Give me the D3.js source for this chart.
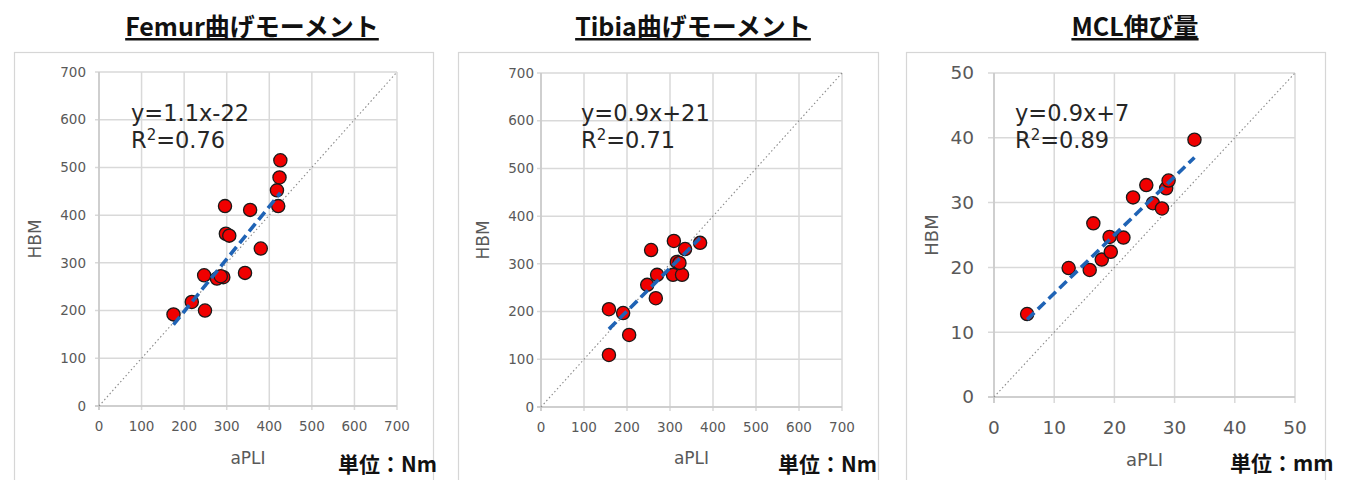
<!DOCTYPE html>
<html>
<head>
<meta charset="utf-8">
<script src="https://cdn.jsdelivr.net/npm/d3@7"></script>
<style>
  html, body { margin: 0; padding: 0; background: #fff; }
  svg { display: block; }
</style>
</head>
<body>
<svg id="chart" width="1349" height="480"></svg>
<script>
// ---- data ----
const panelTitles = ["Femur曲げモーメント", "Tibia曲げモーメント", "MCL伸び量"];
const unitLabels = ["単位：Nm", "単位：Nm", "単位：mm"];
const equationLines = [["y=1.1x-22", "0.76"], ["y=0.9x+21", "0.71"], ["y=0.9x+7", "0.89"]];
const fitSlope = [1.1, 0.9, 0.9];
const fitIntercept = [-22, 21, 7];

const momentTicks = [0, 100, 200, 300, 400, 500, 600, 700];
const elongTicks = [0, 10, 20, 30, 40, 50];

const femurAPLI = [175, 218, 249, 247, 277, 292, 286, 343, 296, 298, 306, 355, 380, 426, 424, 418, 421];
const femurHBM  = [192, 218, 200, 274, 267, 270, 272, 279, 419, 361, 357, 411, 330, 515, 479, 452, 419];

const tibiaAPLI = [158, 191, 205, 158, 256, 270, 247, 267, 309, 335, 370, 316, 307, 328, 322];
const tibiaHBM  = [205, 197, 151, 109, 329, 277, 256, 228, 348, 331, 344, 304, 277, 277, 302];

const mclAPLI = [5.5, 12.4, 15.9, 16.5, 17.9, 19.4, 19.2, 21.5, 23.1, 25.3, 26.4, 27.9, 28.6, 29.0, 33.3];
const mclHBM  = [12.8, 19.9, 19.6, 26.8, 21.2, 22.4, 24.7, 24.6, 30.8, 32.7, 29.9, 29.1, 32.2, 33.4, 39.7];

// ---- layout for the three panels ----
const panels = [
  { x: femurAPLI, y: femurHBM, max: 700, ticks: momentTicks,
    box: [14, 52, 433], plot: [99, 72, 397, 406], tickFont: 13.5, tickLen: 4, tickGap: 9,
    xTickY: 431, labelFont: 17, aPLIy: 464, hbmX: 35, eqX: 131, eqY: 121,
    titleX: 252, unitX: 338, unitY: 472 },
  { x: tibiaAPLI, y: tibiaHBM, max: 700, ticks: momentTicks,
    box: [458, 52, 878], plot: [541, 73, 842, 407], tickFont: 13.5, tickLen: 4, tickGap: 3,
    xTickY: 432, labelFont: 17, aPLIy: 464, hbmX: 483, eqX: 581, eqY: 121,
    titleX: 693, unitX: 778, unitY: 472 },
  { x: mclAPLI, y: mclHBM, max: 50, ticks: elongTicks,
    box: [906, 52, 1325], plot: [994, 73, 1295, 397], tickFont: 18.5, tickLen: 6, tickGap: 14,
    xTickY: 434, labelFont: 18, aPLIy: 466, hbmX: 932, eqX: 1015, eqY: 121,
    titleX: 1135, unitX: 1230, unitY: 471 }
];

const svg = d3.select("#chart");
const gridColor = "#d9d9d9";
const tickTextColor = "#595959";
const tf = "'DejaVu Sans', Verdana, sans-serif";

panels.forEach((p, i) => {
  const g = svg.append("g");
  const [px0, py0, px1, py1] = p.plot;
  const xs = d3.scaleLinear().domain([0, p.max]).range([px0, px1]);
  const ys = d3.scaleLinear().domain([0, p.max]).range([py1, py0]);

  // outer frame
  g.append("rect")
    .attr("x", p.box[0] + 0.5).attr("y", p.box[1] + 0.5)
    .attr("width", p.box[2] - p.box[0]).attr("height", 480)
    .attr("fill", "#fff").attr("stroke", "#d6d6d6").attr("stroke-width", 1.2);

  // title (underlined)
  g.append("text")
    .attr("x", p.titleX).attr("y", 36)
    .attr("text-anchor", "middle")
    .attr("font-family", "'Noto Sans CJK JP', 'Noto Sans', sans-serif")
    .attr("font-weight", "bold").attr("font-size", 25)
    .attr("fill", "#111")
    .attr("text-decoration", "underline")
    .text(panelTitles[i]);

  // grid lines
  g.append("g").selectAll("line").data(p.ticks).join("line")
    .attr("x1", d => xs(d)).attr("x2", d => xs(d))
    .attr("y1", py0).attr("y2", py1 + p.tickLen)
    .attr("stroke", gridColor).attr("stroke-width", 1.5);
  g.append("g").selectAll("line").data(p.ticks).join("line")
    .attr("x1", px0 - p.tickLen).attr("x2", px1)
    .attr("y1", d => ys(d)).attr("y2", d => ys(d))
    .attr("stroke", gridColor).attr("stroke-width", 1.5);

  // axis lines slightly darker
  g.append("line").attr("x1", px0).attr("x2", px0).attr("y1", py0).attr("y2", py1 + p.tickLen)
    .attr("stroke", "#c8c8c8").attr("stroke-width", 1.5);
  g.append("line").attr("x1", px0 - p.tickLen).attr("x2", px1).attr("y1", py1).attr("y2", py1)
    .attr("stroke", "#c8c8c8").attr("stroke-width", 1.5);

  // tick labels
  g.append("g").selectAll("text").data(p.ticks).join("text")
    .attr("x", px0 - p.tickLen - p.tickGap).attr("y", d => ys(d))
    .attr("dy", "0.35em").attr("text-anchor", "end")
    .attr("font-family", tf).attr("font-size", p.tickFont).attr("fill", tickTextColor)
    .text(d => d);
  g.append("g").selectAll("text").data(p.ticks).join("text")
    .attr("x", d => xs(d)).attr("y", p.xTickY)
    .attr("text-anchor", "middle")
    .attr("font-family", tf).attr("font-size", p.tickFont).attr("fill", tickTextColor)
    .text(d => d);

  // axis titles
  g.append("text")
    .attr("x", (px0 + px1) / 2).attr("y", p.aPLIy)
    .attr("text-anchor", "middle")
    .attr("font-family", tf).attr("font-size", p.labelFont).attr("fill", tickTextColor)
    .text("aPLI");
  g.append("text")
    .attr("transform", `translate(${p.hbmX},${(py0 + py1) / 2}) rotate(-90)`)
    .attr("text-anchor", "middle").attr("dy", "0.35em")
    .attr("font-family", tf).attr("font-size", p.labelFont).attr("fill", tickTextColor)
    .text("HBM");

  // y = x reference line
  g.append("line")
    .attr("x1", xs(0)).attr("y1", ys(0)).attr("x2", xs(p.max)).attr("y2", ys(p.max))
    .attr("stroke", "#8a8a8a").attr("stroke-width", 1.1)
    .attr("stroke-dasharray", "1.5,2.5");

  // data points
  const pts = p.x.map((v, k) => [v, p.y[k]]);
  g.append("g").selectAll("circle").data(pts).join("circle")
    .attr("cx", d => xs(d[0])).attr("cy", d => ys(d[1]))
    .attr("r", 6.6)
    .attr("fill", "#f00000").attr("stroke", "#1a1a1a").attr("stroke-width", 1.3);

  // regression line over the data range
  const xmin = d3.min(p.x), xmax = d3.max(p.x);
  const f = x => fitSlope[i] * x + fitIntercept[i];
  g.append("line")
    .attr("x1", xs(xmin)).attr("y1", ys(f(xmin)))
    .attr("x2", xs(xmax)).attr("y2", ys(f(xmax)))
    .attr("stroke", "#1f63b5").attr("stroke-width", 3.6)
    .attr("stroke-dasharray", "10,5");

  // equation and R²
  g.append("text")
    .attr("x", p.eqX).attr("y", p.eqY)
    .attr("font-family", tf).attr("font-size", 22.5).attr("fill", "#262626")
    .text(equationLines[i][0]);
  const r2 = g.append("text")
    .attr("x", p.eqX).attr("y", p.eqY + 27)
    .attr("font-family", tf).attr("font-size", 22.5).attr("fill", "#262626");
  r2.append("tspan").text("R");
  r2.append("tspan").attr("font-size", 15).attr("dy", -8).text("2");
  r2.append("tspan").attr("dy", 8).text("=" + equationLines[i][1]);

  // unit note
  g.append("text")
    .attr("x", p.unitX).attr("y", p.unitY)
    .attr("font-family", "'Noto Sans CJK JP', sans-serif")
    .attr("font-weight", "bold").attr("font-size", 21).attr("fill", "#111")
    .text(unitLabels[i]);
});
</script>
</body>
</html>
